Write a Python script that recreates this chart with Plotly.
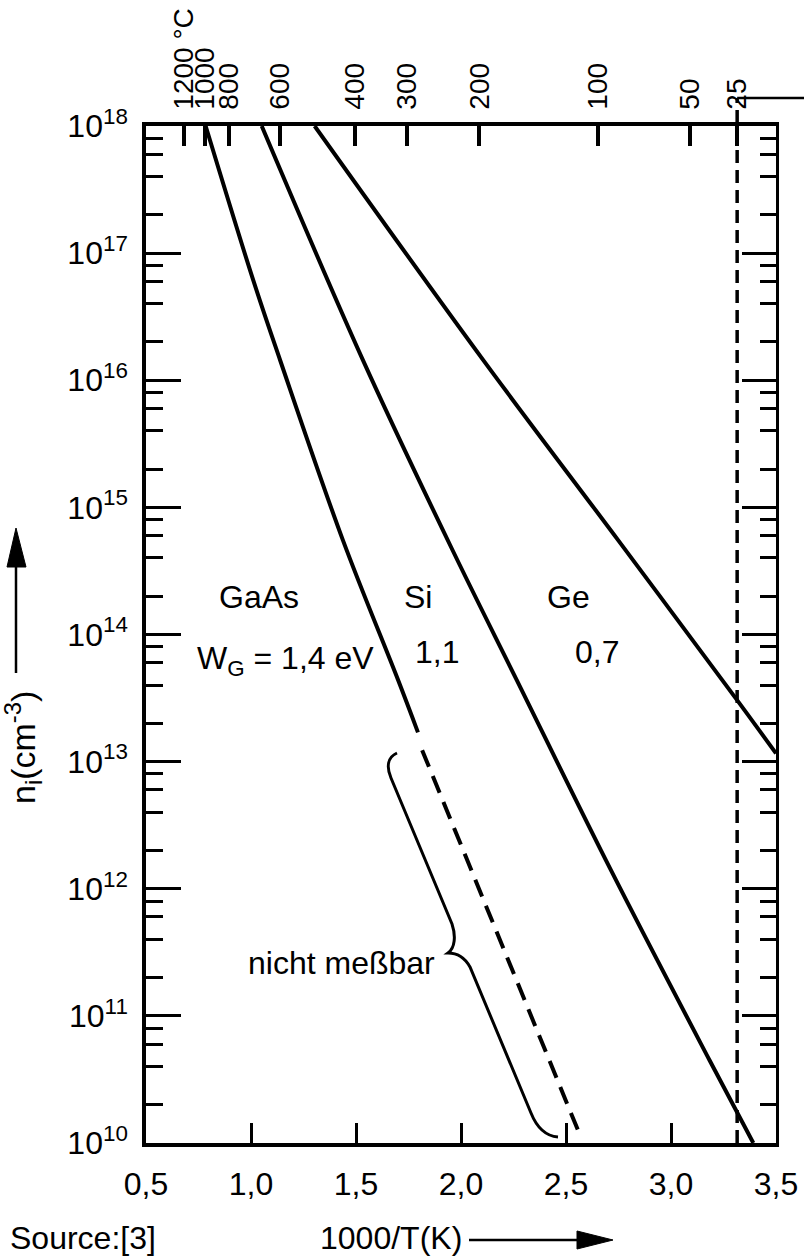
import plotly.graph_objects as go

# ---------------- data ----------------
gaas_x = [0.784, 1.011, 1.138, 1.438, 1.70, 1.795]
gaas_ni = [1.0e18, 6.1e16, 1.45e16, 5.5e14, 4.4e13, 1.7e13]
gaas_dash_x = [1.815, 2.567]
gaas_dash_ni = [1.23e13, 1.15e10]

si_x = [1.051, 1.533, 1.96, 2.265, 2.714, 3.183, 3.392]
si_ni = [1.0e18, 1.44e16, 4.6e14, 4.4e13, 1.4e12, 4.5e10, 1.0e10]

ge_x = [1.303, 2.106, 2.749, 3.321, 3.5]
ge_ni = [1.0e18, 1.44e16, 5.5e14, 2.95e13, 1.16e13]

room_temp_x = 3.315  # 25 °C dashed marker

x_ticks = [0.5, 1.0, 1.5, 2.0, 2.5, 3.0, 3.5]
x_tick_text = ["0,5", "1,0", "1,5", "2,0", "2,5", "3,0", "3,5"]

top_tick_pos = [0.681, 0.779, 0.897, 1.136, 1.493, 1.741, 2.088, 2.654, 3.089, 3.315]
top_tick_text = ["1200 °C", "1000", "800", "600", "400", "300", "200", "100", "50", "25"]

y_exponents = [10, 11, 12, 13, 14, 15, 16, 17, 18]
y_minor_mult = [2, 4, 6, 8]

# ---------------- layout constants ----------------
W, H = 804, 1260
L, R, T, B = 146, 28, 126, 117
PW, PH = W - L - R, H - T - B
FONT = "Liberation Sans Narrow, Arial Narrow, Liberation Sans, Arial, sans-serif"
FS = 32


def px(x):
    return (x - L) / PW


def py(y):
    return (H - B - y) / PH


y_major = [10.0 ** e for e in y_exponents]
y_major_text = ["10<sup>%d</sup>" % e for e in y_exponents]
y_minor = [m * 10.0 ** e for e in y_exponents[:-1] for m in y_minor_mult]

fig = go.Figure()
line = dict(color="black", width=4, shape="spline", smoothing=1.0)
fig.add_trace(go.Scatter(x=gaas_x, y=gaas_ni, mode="lines", line=line, hoverinfo="skip"))
fig.add_trace(go.Scatter(x=gaas_dash_x, y=gaas_dash_ni, mode="lines",
                         line=dict(color="black", width=4, dash="18px,10px"), hoverinfo="skip"))
fig.add_trace(go.Scatter(x=si_x, y=si_ni, mode="lines", line=line, hoverinfo="skip"))
fig.add_trace(go.Scatter(x=ge_x, y=ge_ni, mode="lines", line=line, hoverinfo="skip"))
# helper trace for the secondary (top / right) axes
fig.add_trace(go.Scatter(x=[2.0], y=[1e14], xaxis="x2", yaxis="y2", mode="markers",
                         marker=dict(opacity=0), hoverinfo="skip"))

fig.update_layout(
    width=W, height=H, margin=dict(l=L, r=R, t=T, b=B, pad=0, autoexpand=False),
    paper_bgcolor="white", plot_bgcolor="white", showlegend=False,
    font=dict(family=FONT, size=FS, color="black"),
    xaxis=dict(range=[0.5, 3.5], tickmode="array", tickvals=x_ticks, ticktext=x_tick_text,
               ticks="inside", ticklen=20, tickwidth=3, tickcolor="black", automargin=False,
               showline=True, linewidth=3.5, linecolor="black", showgrid=False, zeroline=False,
               ticklabelstandoff=10, tickfont=dict(size=FS)),
    yaxis=dict(type="log", range=[10, 18], tickmode="array", tickvals=y_major, ticktext=y_major_text,
               ticks="inside", ticklen=35, tickwidth=3, tickcolor="black", automargin=False,
               minor=dict(tickmode="array", tickvals=y_minor, ticks="inside", ticklen=17,
                          tickwidth=3, tickcolor="black", showgrid=False),
               showline=True, linewidth=3.5, linecolor="black", showgrid=False, zeroline=False,
               ticklabelstandoff=8, tickfont=dict(size=FS)),
    xaxis2=dict(range=[0.5, 3.5], overlaying="x", side="top", anchor="y2", tickmode="array",
                tickvals=top_tick_pos, ticktext=top_tick_text, tickangle=-90, automargin=False,
                ticks="inside", ticklen=20, tickwidth=3.5, tickcolor="black",
                showline=True, linewidth=3.5, linecolor="black", showgrid=False, zeroline=False,
                ticklabelstandoff=7, tickfont=dict(size=28)),
    yaxis2=dict(type="log", range=[10, 18], overlaying="y", side="right", anchor="x2",
                tickmode="array", tickvals=y_major, showticklabels=False, automargin=False,
                ticks="inside", ticklen=34, tickwidth=3, tickcolor="black",
                minor=dict(tickmode="array", tickvals=y_minor, ticks="inside", ticklen=16,
                           tickwidth=3, tickcolor="black", showgrid=False),
                showline=True, linewidth=3, linecolor="black", showgrid=False, zeroline=False),
)

# ---------------- shapes ----------------
rt = (room_temp_x - 0.5) / 3.0
shapes = [
    dict(type="line", xref="paper", yref="paper", x0=rt, x1=rt, y0=0, y1=py(98),
         line=dict(color="black", width=3.5, dash="13px,7px")),
    dict(type="line", xref="paper", yref="paper", x0=rt, x1=px(W + 2), y0=py(98), y1=py(98),
         line=dict(color="black", width=2.5)),
    # curly brace
    dict(type="path", xref="paper", yref="paper",
         path=("M {},{} C {},{} {},{} {},{} L {},{} C {},{} {},{} {},{} "
               "C {},{} {},{} {},{} L {},{} C {},{} {},{} {},{}").format(
             px(397), py(753), px(388), py(757), px(386), py(766), px(391), py(778),
             px(452), py(924), px(456), py(936), px(455), py(948), px(448), py(953),
             px(458), py(953), px(465), py(958), px(470), py(967),
             px(531), py(1113), px(537), py(1128), px(545), py(1136), px(558), py(1137)),
         line=dict(color="black", width=3)),
    # y-title arrow
    dict(type="line", xref="paper", yref="paper", x0=px(16), x1=px(16), y0=py(673), y1=py(565),
         line=dict(color="black", width=2.5)),
    dict(type="path", xref="paper", yref="paper",
         path="M {},{} L {},{} L {},{} Z".format(px(16), py(528), px(7), py(567), px(26), py(567)),
         fillcolor="black", line=dict(color="black", width=1)),
    # x-title arrow
    dict(type="line", xref="paper", yref="paper", x0=px(469), x1=px(579), y0=py(1240), y1=py(1240),
         line=dict(color="black", width=2.5)),
    dict(type="path", xref="paper", yref="paper",
         path="M {},{} L {},{} L {},{} Z".format(px(613), py(1240), px(577), py(1231), px(577), py(1249)),
         fillcolor="black", line=dict(color="black", width=1)),
]
fig.update_layout(shapes=shapes)

# ---------------- annotations ----------------
def ann(text, x, y, size=FS, xanchor="center", yanchor="middle", angle=0):
    return dict(text=text, x=px(x), y=py(y), xref="paper", yref="paper", showarrow=False,
                xanchor=xanchor, yanchor=yanchor, textangle=angle,
                font=dict(family=FONT, size=size, color="black"))


fig.update_layout(annotations=[
    ann("GaAs", 259, 597),
    ann("Si", 418, 597),
    ann("Ge", 568, 597),
    ann("W<sub>G</sub> = 1,4 eV", 285, 660),
    ann("1,1", 437, 652),
    ann("0,7", 597, 652),
    ann("nicht meßbar", 341, 963),
    ann("n<sub>i</sub>(cm<sup>-3</sup>)", 23, 748, size=34, angle=-90),
    ann("Source:[3]", 8, 1238, xanchor="left"),
    ann("1000/T(K)", 391, 1238),
])

fig.write_html("out.html")
